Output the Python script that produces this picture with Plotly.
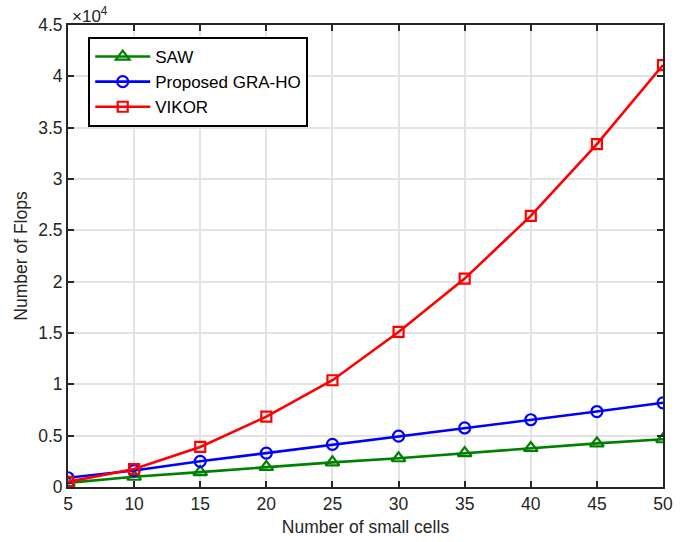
import plotly.graph_objects as go

cells = [5, 10, 15, 20, 25, 30, 35, 40, 45, 50]
saw = [400, 1000, 1450, 1950, 2400, 2800, 3300, 3800, 4250, 4650]
gra_ho = [900, 1600, 2500, 3300, 4150, 4950, 5750, 6550, 7350, 8200]
vikor = [500, 1750, 3900, 6850, 10400, 15100, 20300, 26400, 33400, 41100]

ytick_vals = [0, 5000, 10000, 15000, 20000, 25000, 30000, 35000, 40000, 45000]
ytick_text = ["0", "0.5", "1", "1.5", "2", "2.5", "3", "3.5", "4", "4.5"]
xtick_vals = [5, 10, 15, 20, 25, 30, 35, 40, 45, 50]

font = "Liberation Sans, Arial, sans-serif"
axcol = "#262626"

fig = go.Figure()
fig.add_trace(go.Scatter(x=cells, y=saw, name="SAW", mode="lines+markers",
                         line=dict(color="#008000", width=2.6),
                         marker=dict(symbol="triangle-up-open", size=12, line=dict(width=2.2, color="#008000"))))
fig.add_trace(go.Scatter(x=cells, y=gra_ho, name="Proposed GRA-HO", mode="lines+markers",
                         line=dict(color="#0000ff", width=2.6),
                         marker=dict(symbol="circle-open", size=11, line=dict(width=2.2, color="#0000ff"))))
fig.add_trace(go.Scatter(x=cells, y=vikor, name="VIKOR", mode="lines+markers",
                         line=dict(color="#ff0000", width=2.6),
                         marker=dict(symbol="square-open", size=10, line=dict(width=2.2, color="#ff0000"))))

fig.update_layout(
    width=695, height=542,
    margin=dict(l=68, r=32, t=25, b=55),
    paper_bgcolor="white", plot_bgcolor="white",
    font=dict(family=font, size=17, color=axcol),
    showlegend=True,
    legend=dict(x=0.034, y=0.974, xanchor="left", yanchor="top",
                bgcolor="white", bordercolor="black", borderwidth=2,
                font=dict(family=font, size=17, color="black"),
                tracegroupgap=0, itemwidth=55),
    xaxis=dict(range=[5, 50], tickvals=xtick_vals, ticks="inside", ticklen=6, tickwidth=1.8,
               tickcolor=axcol, showline=True, linecolor=axcol, linewidth=1.8, mirror="ticks",
               showgrid=True, gridcolor="#e3e3e3", gridwidth=1.5, zeroline=False, automargin=False,
               title=dict(text="Number of small cells", font=dict(size=17.5, color=axcol), standoff=8),
               tickfont=dict(size=17.5, color=axcol)),
    yaxis=dict(range=[0, 45000], tickvals=ytick_vals, ticktext=ytick_text, ticks="inside", ticklen=6,
               tickwidth=1.8, tickcolor=axcol, showline=True, linecolor=axcol, linewidth=1.8, mirror="ticks",
               showgrid=True, gridcolor="#e3e3e3", gridwidth=1.5, zeroline=False, automargin=False,
               title=dict(text="Number of Flops", font=dict(size=17.5, color=axcol), standoff=6),
               tickfont=dict(size=17.5, color=axcol)),
    annotations=[dict(text="×10<sup>4</sup>", xref="paper", yref="paper", x=0.003, y=1.0,
                      xanchor="left", yanchor="bottom", showarrow=False, yshift=-3,
                      font=dict(family=font, size=17, color=axcol))],
)

fig.write_html("out.html")
